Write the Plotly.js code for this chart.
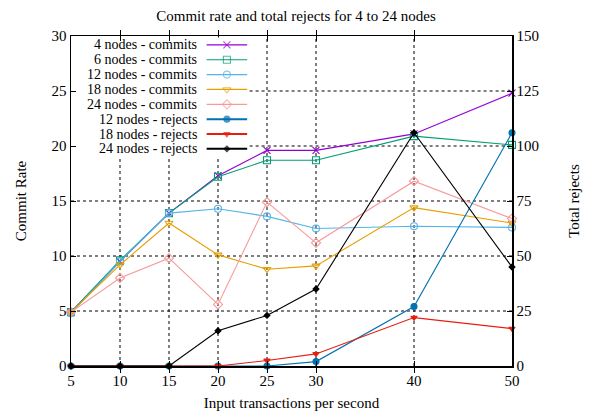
<!DOCTYPE html>
<html>
<head>
<meta charset="utf-8">
<script src="https://cdn.plot.ly/plotly-3.0.1.min.js"></script>
<style>html,body{margin:0;padding:0;background:#fff}#chart{width:592px;height:413px}</style>
</head>
<body>
<div id="chart"></div>
<script>
// ---- data ----
var tps = [5, 10, 15, 20, 25, 30, 40, 50];
var tickLabels = ['5', '10', '15', '20', '25', '30', '40', '50'];
var commitTicks = [0, 5, 10, 15, 20, 25, 30];
var commits4  = [4.9, 9.5, 13.9, 17.3, 19.6, 19.6, 21.1, 24.8];
var commits6  = [4.9, 9.6, 13.9, 17.2, 18.7, 18.7, 20.9, 20.1];
var commits12 = [4.8, 9.5, 13.9, 14.3, 13.6, 12.5, 12.7, 12.6];
var commits18 = [4.9, 9.2, 13.0, 10.1, 8.8, 9.1, 14.4, 13.0];
var commits24 = [4.9, 8.0, 9.8, 5.6, 14.9, 11.2, 16.8, 13.4];
var rejects12 = [0, 0, 0, 0, 0, 2, 27, 106];
var rejects18 = [0, 0, 0, 0, 2.5, 5.5, 22, 17];
var rejects24 = [0, 0, 0, 16, 23, 35, 106, 45];
var seriesNames = ['4 nodes - commits', '6 nodes - commits', '12 nodes - commits', '18 nodes - commits',
                   '24 nodes - commits', '12 nodes - rejects', '18 nodes - rejects', '24 nodes - rejects'];

// ---- styles ----
var styles = [
  {c: '#9400d3', s: 'x-thin-open', sz: 7, ax: 'y'},
  {c: '#009e73', s: 'square-open', sz: 7, ax: 'y'},
  {c: '#56b4e9', s: 'circle-open', sz: 7, ax: 'y'},
  {c: '#e69f00', s: 'triangle-down-open', sz: 7, ax: 'y'},
  {c: '#f79a9a', s: 'diamond-open', sz: 7, ax: 'y'},
  {c: '#0072b2', s: 'circle', sz: 6, ax: 'y2'},
  {c: '#e51e10', s: 'triangle-down', sz: 5.5, ax: 'y2'},
  {c: '#000000', s: 'diamond', sz: 4.5, ax: 'y2'}
];
var seriesData = [commits4, commits6, commits12, commits18, commits24, rejects12, rejects18, rejects24];
var FAMILY = 'Liberation Serif, Times New Roman, serif';

var traces = [];
seriesData.forEach(function (ys, i) {
  var st = styles[i];
  traces.push({
    x: tps, y: ys, yaxis: st.ax, type: 'scatter', mode: 'lines+markers',
    name: seriesNames[i], showlegend: false, cliponaxis: false,
    line: {color: st.c, width: 1.1},
    marker: {symbol: st.s, size: st.sz, color: st.c, line: {color: st.c, width: 1.1}}
  });
});

// legend box geometry (fractions of plot area)
var LEG_RIGHT = 0.405, LEG_BOTTOM = 0.628;

// legend samples (drawn on a hidden helper axis pair)
var annotations = [];
seriesNames.forEach(function (nm, i) {
  var st = styles[i];
  var row = seriesNames.length - 1 - i;
  traces.push({
    x: [0, 0.5, 1], y: [row, row, row], xaxis: 'x3', yaxis: 'y3', type: 'scatter', mode: 'lines+markers',
    showlegend: false, hoverinfo: 'skip',
    line: {color: st.c, width: i >= 5 ? 2 : 1.2},
    marker: {symbol: st.s, size: [0, st.sz, 0], color: st.c, line: {color: st.c, width: 1.1}}
  });
  annotations.push({
    text: nm, xref: 'paper', yref: 'y3', x: 0.287, y: row, xanchor: 'right', yanchor: 'middle',
    showarrow: false, borderpad: 0, font: {family: FAMILY, size: 14, color: '#000'}
  });
});

// dotted grid, interrupted by the opaque legend box (as in the original)
var xMin = 5, xMax = 50, yMin = 0, yMax = 30;
var legRightX = xMin + LEG_RIGHT * (xMax - xMin);
var legBottomY = yMin + LEG_BOTTOM * (yMax - yMin);
var shapes = [];
tps.forEach(function (t) {
  if (t <= xMin || t >= xMax) return;
  shapes.push({type: 'line', xref: 'x', yref: 'y', x0: t, x1: t, y0: yMin,
               y1: t < legRightX ? legBottomY : yMax, layer: 'below',
               line: {color: '#000', width: 1, dash: 'dot'}});
});
commitTicks.forEach(function (v) {
  if (v <= yMin || v >= yMax) return;
  shapes.push({type: 'line', xref: 'x', yref: 'y', y0: v, y1: v,
               x0: v > legBottomY ? legRightX : xMin, x1: xMax, layer: 'below',
               line: {color: '#000', width: 1, dash: 'dot'}});
});

var fnt = {family: FAMILY, size: 15, color: '#000'};

var layout = {
  width: 592, height: 413,
  margin: {l: 71, r: 80, t: 36, b: 47, pad: 0},
  paper_bgcolor: '#fff', plot_bgcolor: '#fff',
  font: fnt,
  title: {text: 'Commit rate and total rejects for 4 to 24 nodes', font: {family: FAMILY, size: 15, color: '#000'},
          x: 0.5, xanchor: 'center', y: 0.962, yanchor: 'middle'},
  showlegend: false,
  xaxis: {
    range: [xMin, xMax], tickmode: 'array', tickvals: tps, ticktext: tickLabels,
    ticks: 'inside', ticklen: 5, tickcolor: '#000', mirror: 'allticks',
    showline: true, linecolor: '#000', linewidth: 1.5,
    showgrid: false, zeroline: false, tickfont: fnt,
    title: {text: 'Input transactions per second', font: fnt, standoff: 10}
  },
  yaxis: {
    range: [yMin, yMax], tickmode: 'array', tickvals: commitTicks,
    ticks: 'inside', ticklen: 5, tickcolor: '#000',
    showline: true, linecolor: '#000', linewidth: 1.5,
    showgrid: false, zeroline: false, tickfont: fnt,
    title: {text: 'Commit Rate', font: fnt, standoff: 21}
  },
  yaxis2: {
    range: [0, 150], dtick: 25, tick0: 0, overlaying: 'y', side: 'right',
    ticks: 'inside', ticklen: 5, tickcolor: '#000',
    showline: true, linecolor: '#000', linewidth: 1.5,
    showgrid: false, zeroline: false, tickfont: fnt,
    title: {text: 'Total rejects', font: fnt, standoff: 30}
  },
  xaxis3: {domain: [0.307, 0.4], range: [0, 1], visible: false, showgrid: false, fixedrange: true, anchor: 'y3'},
  yaxis3: {domain: [0.6355, 0.9955], range: [-0.5, 7.5], visible: false, showgrid: false, fixedrange: true, anchor: 'x3'},
  shapes: shapes,
  annotations: annotations
};

Plotly.newPlot('chart', traces, layout, {displayModeBar: false, staticPlot: true});
</script>
</body>
</html>
